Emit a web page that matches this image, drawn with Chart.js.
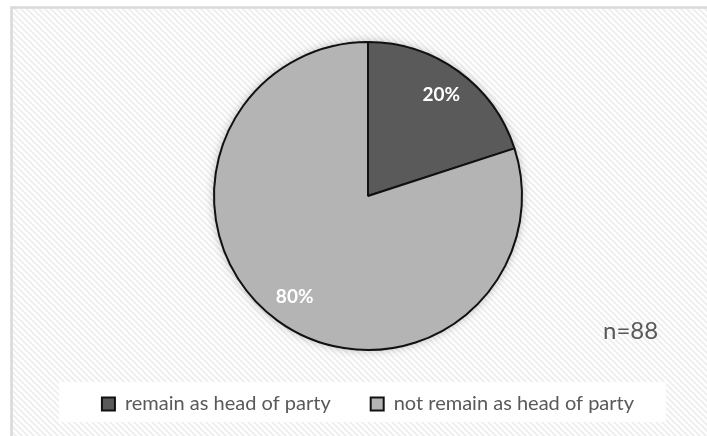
<!DOCTYPE html>
<html>
<head>
<meta charset="utf-8">
<script src="https://cdn.jsdelivr.net/npm/chart.js@4.4.1/dist/chart.umd.min.js"></script>
<style>
  html, body { margin: 0; padding: 0; background: #fff; }
  #wrap { width: 707px; height: 436px; }
</style>
</head>
<body>
<div id="wrap"><canvas id="chart" width="707" height="436"></canvas></div>
<script>
const categories = ['remain as head of party', 'not remain as head of party'];
const shares = [20, 80];
const sampleSize = 88;
const sliceColors = ['#5a5a5a', '#b4b4b4'];

const TEXT_GREY = '#595959';
const FONT = 'Lato, "Open Sans", sans-serif';

// small tile of diagonal stripes for the plot background
function hatchPattern(ctx) {
    const tile = document.createElement('canvas');
    tile.width = 6;
    tile.height = 6;
    const t = tile.getContext('2d');
    t.fillStyle = '#ffffff';
    t.fillRect(0, 0, 6, 6);
    t.strokeStyle = '#efefef';
    t.lineWidth = 2;
    t.beginPath();
    t.moveTo(-3, -3); t.lineTo(9, 9);
    t.moveTo(-3, 3); t.lineTo(3, 9);
    t.moveTo(3, -3); t.lineTo(9, 3);
    t.stroke();
    return ctx.createPattern(tile, 'repeat');
}

const backdrop = {
    id: 'backdrop',
    beforeDraw(chart) {
        const { ctx, width, height } = chart;
        ctx.save();
        ctx.fillStyle = '#fff';
        ctx.fillRect(0, 0, width, height);
        ctx.fillStyle = hatchPattern(ctx);
        ctx.fillRect(12, 8, width - 12, height - 8);
        ctx.strokeStyle = '#d9d9d9';
        ctx.lineWidth = 2.5;
        ctx.beginPath();
        ctx.moveTo(11.5, height);
        ctx.lineTo(11.5, 7.5);
        ctx.lineTo(width, 7.5);
        ctx.stroke();

        // white panel behind the legend
        const boxes = chart.legend && chart.legend.legendHitBoxes;
        if (boxes && boxes.length) {
            const first = boxes[0];
            const last = boxes[boxes.length - 1];
            const cy = first.top + first.height / 2;
            ctx.fillStyle = 'rgba(255,255,255,0.92)';
            ctx.fillRect(first.left - 43, cy - 22, last.left + last.width - first.left + 75, 40);
        }
        ctx.restore();
    }
};

// soft shadow under the whole pie
const pieShadow = {
    id: 'pieShadow',
    beforeDatasetsDraw(chart) {
        const arc = chart.getDatasetMeta(0).data[0];
        if (!arc) return;
        const { ctx } = chart;
        ctx.save();
        ctx.shadowColor = 'rgba(0,0,0,0.3)';
        ctx.shadowBlur = 10;
        ctx.fillStyle = '#b4b4b4';
        ctx.beginPath();
        ctx.arc(arc.x, arc.y, arc.outerRadius, 0, Math.PI * 2);
        ctx.fill();
        ctx.restore();
    }
};

const sliceLabels = {
    id: 'sliceLabels',
    afterDatasetsDraw(chart) {
        const { ctx } = chart;
        ctx.save();
        ctx.font = `bold 19px ${FONT}`;
        ctx.fillStyle = '#fff';
        ctx.textAlign = 'center';
        ctx.textBaseline = 'middle';
        chart.getDatasetMeta(0).data.forEach((arc, i) => {
            const mid = (arc.startAngle + arc.endAngle) / 2;
            const r = arc.outerRadius * 0.81;
            ctx.fillText(shares[i] + '%', arc.x + Math.cos(mid) * r, arc.y + Math.sin(mid) * r);
        });
        ctx.restore();
    }
};

const sampleLabel = {
    id: 'sampleLabel',
    afterDraw(chart) {
        const { ctx } = chart;
        ctx.save();
        ctx.font = `24px ${FONT}`;
        ctx.fillStyle = TEXT_GREY;
        ctx.textAlign = 'left';
        ctx.textBaseline = 'alphabetic';
        ctx.fillText('n=' + sampleSize, 603, 339);
        ctx.restore();
    }
};

new Chart(document.getElementById('chart'), {
    type: 'pie',
    data: {
        labels: categories,
        datasets: [{
            data: shares,
            backgroundColor: sliceColors,
            borderColor: '#111',
            borderWidth: 2,
            radius: 154
        }]
    },
    options: {
        responsive: false,
        animation: false,
        devicePixelRatio: 1,
        layout: { padding: { top: 38, bottom: 12, left: 29, right: 0 } },
        plugins: {
            legend: {
                position: 'bottom',
                labels: {
                    boxWidth: 13,
                    boxHeight: 13,
                    padding: 40,
                    color: TEXT_GREY,
                    font: { family: FONT, size: 20 }
                }
            },
            tooltip: { enabled: false }
        }
    },
    plugins: [backdrop, pieShadow, sliceLabels, sampleLabel]
});
</script>
</body>
</html>
